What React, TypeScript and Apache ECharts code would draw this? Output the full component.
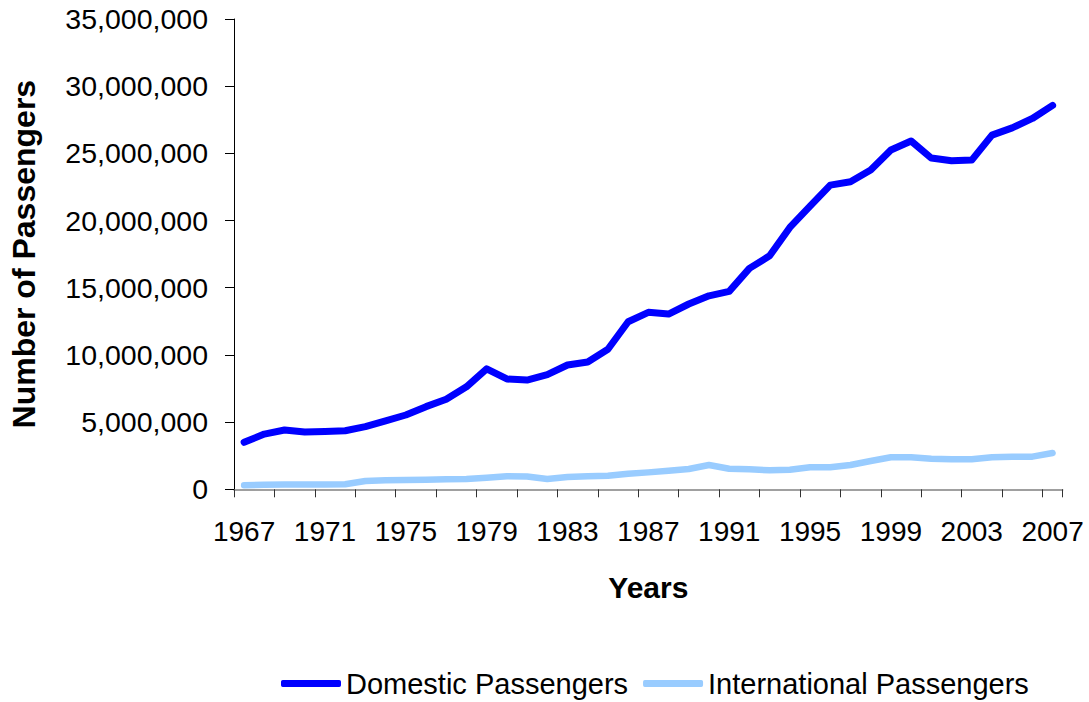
import React, { useEffect, useRef } from "react";
import * as echarts from "echarts";

const years: string[] = [];
for (let y = 1967; y <= 2007; y++) years.push(String(y));

const domestic = [
  3500000, 4110000, 4410000, 4260000, 4310000, 4360000, 4660000, 5100000, 5530000, 6150000,
  6700000, 7630000, 8970000, 8210000, 8130000, 8530000, 9250000, 9470000, 10420000, 12470000,
  13170000, 13040000, 13790000, 14400000, 14730000, 16440000, 17380000, 19490000, 21080000, 22640000,
  22890000, 23760000, 25250000, 25920000, 24650000, 24450000, 24500000, 26360000, 26900000, 27600000,
  28570000,
];

const international = [
  300000, 340000, 360000, 360000, 360000, 380000, 620000, 670000, 690000, 710000,
  740000, 770000, 860000, 970000, 950000, 770000, 920000, 970000, 1010000, 1160000,
  1260000, 1380000, 1510000, 1810000, 1530000, 1490000, 1410000, 1450000, 1640000, 1640000,
  1810000, 2110000, 2380000, 2380000, 2280000, 2230000, 2230000, 2380000, 2430000, 2430000,
  2700000,
];

const seriesNames = ["Domestic Passengers", "International Passengers"];
const FONT = "'Liberation Sans', Arial, sans-serif";

const fmt = (v: number) => String(v).replace(/\B(?=(\d{3})+(?!\d))/g, ",");

export default function App() {
  const ref = useRef<HTMLDivElement>(null);
  useEffect(() => {
    if (!ref.current) return;
    const chart = echarts.init(ref.current, undefined, { renderer: "svg" });
    chart.setOption({
      animation: false,
      backgroundColor: "#ffffff",
      textStyle: { fontFamily: FONT },
      grid: { left: 233.3, right: 26.3, top: 19, bottom: 212.7, containLabel: false },
      legend: {
        top: 664,
        left: 276,
        icon: "roundRect",
        itemWidth: 60,
        itemHeight: 7,
        itemGap: 15,
        textStyle: { fontFamily: FONT, fontSize: 29, color: "#000" },
        data: seriesNames,
      },
      xAxis: {
        type: "category",
        data: years,
        boundaryGap: true,
        name: "Years",
        nameLocation: "middle",
        nameGap: 83,
        nameTextStyle: { fontFamily: FONT, fontSize: 30, fontWeight: "bold", color: "#000" },
        axisLine: { show: true, lineStyle: { color: "#808080", width: 1.5 } },
        axisTick: { show: true, interval: 1, length: 8, lineStyle: { color: "#333", width: 1 } },
        axisLabel: { interval: 3, margin: 28, fontFamily: FONT, fontSize: 28, color: "#000" },
        splitLine: { show: false },
      },
      yAxis: {
        type: "value",
        min: 0,
        max: 35000000,
        interval: 5000000,
        name: "Number of Passengers",
        nameLocation: "middle",
        nameGap: 194,
        nameTextStyle: { fontFamily: FONT, fontSize: 32, fontWeight: "bold", color: "#000" },
        axisLine: { show: true, lineStyle: { color: "#000", width: 1 } },
        axisTick: { show: true, inside: false, length: 9, lineStyle: { color: "#000", width: 1 } },
        axisLabel: { margin: 26, fontFamily: FONT, fontSize: 28.5, color: "#000", formatter: (v: number) => fmt(v) },
        splitLine: { show: false },
      },
      series: [
        {
          name: seriesNames[0],
          type: "line",
          data: domestic,
          symbol: "none",
          color: "#0000FF",
          lineStyle: { color: "#0000FF", width: 7, cap: "round", join: "round" },
          z: 3,
        },
        {
          name: seriesNames[1],
          type: "line",
          data: international,
          symbol: "none",
          color: "#99CCFF",
          lineStyle: { color: "#99CCFF", width: 6.5, cap: "round", join: "round" },
          z: 2,
        },
      ],
    });
    return () => chart.dispose();
  }, []);
  return (
    <div
      ref={ref}
      style={{ position: "absolute", left: 0, top: 0, width: 1089, height: 702, background: "#fff" }}
    />
  );
}
